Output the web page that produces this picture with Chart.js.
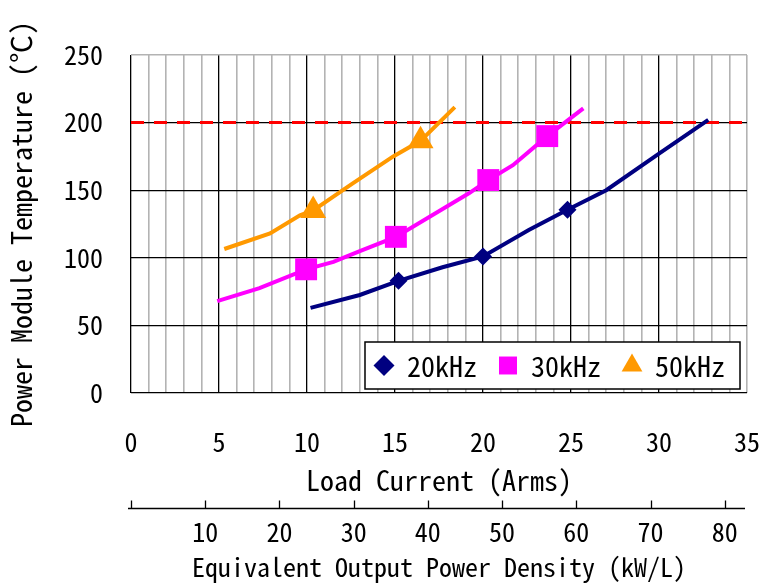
<!DOCTYPE html>
<html>
<head>
<meta charset="utf-8">
<script src="https://cdn.jsdelivr.net/npm/chart.js@4.4.1/dist/chart.umd.min.js"></script>
<style>
  html, body { margin: 0; padding: 0; background: #fff; }
  #wrap { width: 763px; height: 583px; }
</style>
</head>
<body>
<div id="wrap"><canvas id="c" width="763" height="583"></canvas></div>
<script>
// ---- data ----
const currentTicksMax = 35;           // Load Current axis (Arms)
const tempTicksMax = 250;             // temperature axis (°C)
const densityMax = 83;                // Equivalent Output Power Density axis (kW/L)
const densityStep = 10;
const tempLimit = 200;                // dashed red limit line

const seriesLabels = ['20kHz', '30kHz', '50kHz'];

const line20x = [10.2, 13.0, 15.2, 17.7, 20.0, 22.6, 24.8, 27.0, 30.0, 32.8];
const line20y = [63, 72.5, 83, 93, 101, 120.5, 135.5, 150, 177, 202];
const mark20x = [15.2, 20.0, 24.8];
const mark20y = [83, 101, 135.5];

const line30x = [4.9, 7.3, 9.95, 11.5, 13.0, 15.05, 19.2, 20.3, 21.7, 23.65, 25.7];
const line30y = [68, 77.5, 91.5, 97, 105, 115.5, 147.7, 157.5, 168.5, 190, 210.5];
const mark30x = [9.95, 15.05, 20.3, 23.65];
const mark30y = [91.5, 115.5, 157.5, 190];

const line50x = [5.3, 7.9, 9.6, 10.35, 12.6, 14.9, 16.45, 18.4];
const line50y = [106.5, 118, 131.5, 135, 155, 175, 186.5, 211.5];
const mark50x = [10.35, 16.45];
const mark50y = [135, 186.5];

// ---- styling ----
const FONT = "'Noto Sans Mono CJK JP', 'Noto Sans CJK JP', 'Liberation Sans', sans-serif";
const FS = 26;
const FS_TITLE = 28;
const FS_LEGEND = 28;
const NAVY = '#000080', MAGENTA = '#ff00ff', ORANGE = '#ff9900', RED = '#ff0000';
const GRID_MINOR = '#b3b3b3', GRID_MAJOR = '#000000';

const pts = (xs, ys) => xs.map((x, i) => ({ x, y: ys[i] }));

function lineSet(xs, ys, color) {
  return { type: 'line', data: pts(xs, ys), borderColor: color, borderWidth: 4,
           pointRadius: 0, tension: 0, fill: false, inLegend: false };
}
function markSet(label, xs, ys, color, style, r, lr) {
  return { type: 'line', label, data: pts(xs, ys), showLine: false, backgroundColor: color,
           borderColor: color, borderWidth: 0, pointStyle: style, pointRadius: r,
           pointHoverRadius: r, inLegend: true, legendRadius: lr };
}

const datasets = [
  markSet(seriesLabels[0], mark20x, mark20y, NAVY, 'rectRot', 9, 10.5),
  markSet(seriesLabels[1], mark30x, mark30y, MAGENTA, 'rect', 15.5, 12.7),
  markSet(seriesLabels[2], mark50x, mark50y, ORANGE, 'triangle', 15, 12),
  lineSet(line20x, line20y, NAVY),
  lineSet(line30x, line30y, MAGENTA),
  lineSet(line50x, line50y, ORANGE),
  { type: 'line', data: [{ x: 0, y: tempLimit }, { x: currentTicksMax, y: tempLimit }],
    borderColor: RED, borderWidth: 3, borderDash: [13, 10], pointRadius: 0, inLegend: false }
];

// legend drawn inside the plot, with a box
const boxLegend = {
  id: 'boxLegend',
  afterDatasetsDraw(chart) {
    const { ctx, chartArea } = chart;
    const items = chart.data.datasets.filter(d => d.inLegend);
    ctx.save();
    ctx.font = `${FS_LEGEND}px ${FONT}`;
    const widths = items.map(it => ctx.measureText(it.label).width);
    const padL = 9, markHalf = 10, markToText = 23, textToNext = 21, padR = 15, h = 47;
    let total = padL + padR;
    widths.forEach((w, i) => { total += markHalf + markToText + w + (i < items.length - 1 ? textToNext : 0); });
    const right = chartArea.right - 7, bottom = chartArea.bottom - 4;
    const left = right - total, top = bottom - h;
    ctx.fillStyle = '#fff';
    ctx.fillRect(left, top, total, h);
    ctx.strokeStyle = '#000';
    ctx.lineWidth = 1.5;
    ctx.strokeRect(left, top, total, h);
    let x = left + padL;
    const cy = top + h / 2;
    items.forEach((it, i) => {
      const mc = x + markHalf;
      ctx.fillStyle = it.backgroundColor;
      Chart.helpers.drawPoint(ctx, { pointStyle: it.pointStyle, radius: it.legendRadius, rotation: 0, borderWidth: 0 }, mc, cy);
      ctx.fillStyle = '#000';
      ctx.textBaseline = 'middle';
      ctx.textAlign = 'left';
      ctx.fillText(it.label, mc + markToText, cy + 1);
      x = mc + markToText + widths[i] + textToNext;
    });
    ctx.restore();
  }
};

// secondary axis line with upward tick marks
const densityAxisLine = {
  id: 'densityAxisLine',
  afterDraw(chart) {
    const s = chart.scales.x2;
    const ctx = chart.ctx;
    const y = s.top + 0.5;
    ctx.save();
    ctx.strokeStyle = '#000';
    ctx.lineWidth = 1.3;
    ctx.beginPath();
    ctx.moveTo(s.left - 3, y);
    ctx.lineTo(s.right - 2, y);
    s.ticks.filter(t => t.value % densityStep === 0).forEach(t => {
      const px = Math.round(s.getPixelForValue(t.value)) + 0.5;
      ctx.moveTo(px, y);
      ctx.lineTo(px, y - 8);
    });
    ctx.stroke();
    ctx.restore();
  }
};

new Chart(document.getElementById('c'), {
  type: 'line',
  data: { datasets },
  options: {
    responsive: false,
    animation: false,
    events: [],
    layout: { padding: { top: 55, right: 15, left: 0, bottom: 0 } },
    plugins: { legend: { display: false }, tooltip: { enabled: false } },
    scales: {
      x: {
        type: 'linear', position: 'bottom', min: 0, max: currentTicksMax, weight: 0,
        afterFit(scale) { scale.height = 115; },
        border: { display: false },
        grid: {
          drawTicks: true, tickLength: 31, tickColor: 'rgba(0,0,0,0)',
          color: c => (c.tick && c.tick.value % 5 === 0 && c.tick.value !== currentTicksMax) ? GRID_MAJOR : GRID_MINOR,
          lineWidth: c => (c.tick && c.tick.value % 5 === 0 && c.tick.value !== currentTicksMax) ? 1.3 : 1.6
        },
        ticks: {
          stepSize: 1, autoSkip: false, maxRotation: 0, padding: 3, color: '#000',
          font: { family: FONT, size: FS },
          callback: v => (v % 5 === 0 ? String(v) : '')
        },
        title: { display: true, text: 'Load Current (Arms)', color: '#000',
                 font: { family: FONT, size: FS_TITLE }, padding: { top: 0, bottom: 11 } }
      },
      x2: {
        type: 'linear', position: 'bottom', min: 0, max: densityMax, weight: 1,
        afterFit(scale) { scale.height = 75; },
        border: { display: false },
        grid: { display: false },
        ticks: {
          stepSize: densityStep, maxRotation: 0, padding: 1, color: '#000', autoSkip: false,
          includeBounds: false,
          font: { family: FONT, size: FS },
          callback: v => (v !== 0 && v % densityStep === 0 ? String(v) : '')
        },
        title: { display: true, text: 'Equivalent Output Power Density (kW/L)', color: '#000',
                 font: { family: FONT, size: FS }, padding: { top: 0, bottom: 0 } }
      },
      y: {
        type: 'linear', position: 'left', min: 0, max: tempTicksMax,
        afterFit(scale) { scale.width = 131; },
        border: { display: false },
        grid: {
          drawTicks: false,
          color: c => (c.tick && c.tick.value !== tempTicksMax) ? GRID_MAJOR : GRID_MINOR,
          lineWidth: c => (c.tick && c.tick.value !== tempTicksMax) ? 1.3 : 1.6
        },
        ticks: { stepSize: 50, padding: 28, color: '#000', font: { family: FONT, size: FS } },
        title: { display: true, text: 'Power Module Temperature (℃)', color: '#000',
                 font: { family: FONT, size: FS_TITLE }, padding: { top: 5, bottom: 0 } }
      }
    }
  },
  plugins: [boxLegend, densityAxisLine]
});
</script>
</body>
</html>
